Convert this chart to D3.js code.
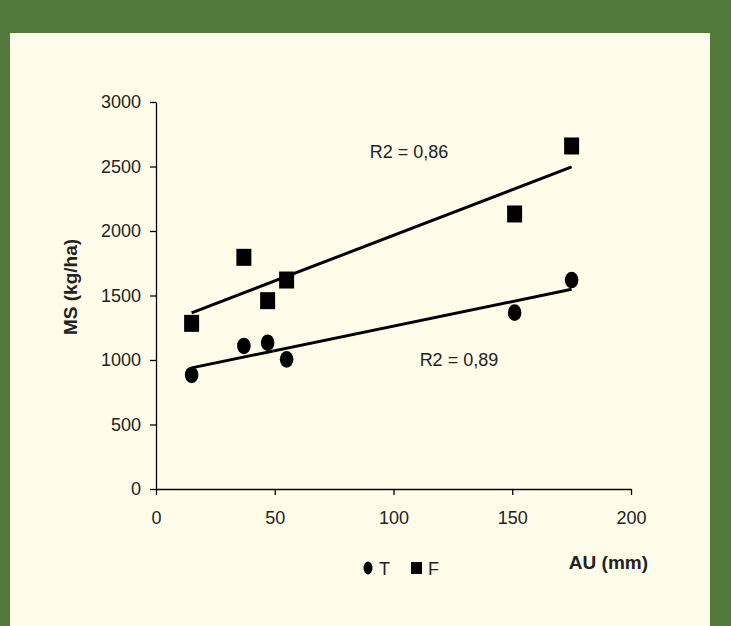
<!DOCTYPE html>
<html>
<head>
<meta charset="utf-8">
<script src="https://cdn.jsdelivr.net/npm/d3@7"></script>
<style>
  html, body { margin: 0; padding: 0; background: #53793a; }
  svg { display: block; font-family: "Liberation Sans", Arial, sans-serif; }
</style>
</head>
<body>
<svg id="chart" width="731" height="626"></svg>
<script>
// AU (mm) for each sampling
var auValues = [15, 37, 47, 55, 151, 175];
// MS (kg/ha), series T (circles) and F (squares)
var seriesT = [884, 1109, 1134, 1005, 1367, 1620];
var seriesF = [1284, 1796, 1460, 1620, 2132, 2659];
var xTicks = [0, 50, 100, 150, 200];
var yTicks = [0, 500, 1000, 1500, 2000, 2500, 3000];
var r2Labels = [
  {text: "R2 = 0,86", x: 90, y: 2566},
  {text: "R2 = 0,89", x: 111, y: 955}
];

var svg = d3.select("#chart");

// cream panel
svg.append("rect")
  .attr("x", 10).attr("y", 33)
  .attr("width", 700).attr("height", 600)
  .attr("fill", "#fffde9");

var xScale = d3.scaleLinear().domain([0, 200]).range([156, 631]);
var yScale = d3.scaleLinear().domain([0, 3000]).range([489, 102]);

var xAxis = d3.axisBottom(xScale).tickValues(xTicks).tickFormat(d3.format("d"))
  .tickSize(6).tickPadding(16).tickSizeOuter(0);
var yAxis = d3.axisLeft(yScale).tickValues(yTicks).tickFormat(d3.format("d"))
  .tickSize(6).tickPadding(9).tickSizeOuter(0);

var gx = svg.append("g")
  .attr("transform", "translate(0," + yScale(0) + ")")
  .call(xAxis);
var gy = svg.append("g")
  .attr("transform", "translate(" + xScale(0) + ",0)")
  .call(yAxis);

[gx, gy].forEach(function(g) {
  g.selectAll("path, line").attr("stroke", "#000").attr("stroke-width", 1.3);
  g.selectAll("text")
    .attr("fill", "#222")
    .style("font-size", "18px")
    .style("font-family", "'Liberation Sans', Arial, sans-serif");
});

// least squares line for a series
function fitLine(xs, ys) {
  var mx = d3.mean(xs), my = d3.mean(ys);
  var sxy = 0, sxx = 0;
  xs.forEach(function(x, i) {
    sxy += (x - mx) * (ys[i] - my);
    sxx += (x - mx) * (x - mx);
  });
  var b1 = sxy / sxx;
  var b0 = my - b1 * mx;
  var x0 = d3.min(xs), x1 = d3.max(xs);
  return [[x0, b0 + b1 * x0], [x1, b0 + b1 * x1]];
}

var line = d3.line()
  .x(function(d) { return xScale(d[0]); })
  .y(function(d) { return yScale(d[1]); });

[seriesF, seriesT].forEach(function(s) {
  svg.append("path")
    .attr("d", line(fitLine(auValues, s)))
    .attr("fill", "none")
    .attr("stroke", "#000")
    .attr("stroke-width", 3);
});

// T points (circles)
svg.append("g").selectAll("ellipse")
  .data(seriesT)
  .join("ellipse")
  .attr("cx", function(d, i) { return xScale(auValues[i]); })
  .attr("cy", function(d) { return yScale(d); })
  .attr("rx", 6.8)
  .attr("ry", 8.3)
  .attr("fill", "#000");

// F points (squares)
svg.append("g").selectAll("rect")
  .data(seriesF)
  .join("rect")
  .attr("x", function(d, i) { return xScale(auValues[i]) - 7.5; })
  .attr("y", function(d) { return yScale(d) - 8.5; })
  .attr("width", 15)
  .attr("height", 17)
  .attr("fill", "#000");

// R2 annotations
svg.selectAll(".r2")
  .data(r2Labels)
  .join("text")
  .attr("class", "r2")
  .attr("x", function(d) { return xScale(d.x); })
  .attr("y", function(d) { return yScale(d.y); })
  .attr("fill", "#222")
  .style("font-size", "18px")
  .text(function(d) { return d.text; });

// axis titles
svg.append("text")
  .attr("transform", "translate(77,287) rotate(-90)")
  .attr("text-anchor", "middle")
  .style("font-size", "19px")
  .style("font-weight", "bold")
  .attr("fill", "#222")
  .text("MS (kg/ha)");

svg.append("text")
  .attr("x", 648).attr("y", 569)
  .attr("text-anchor", "end")
  .style("font-size", "19px")
  .style("font-weight", "bold")
  .attr("fill", "#222")
  .text("AU (mm)");

// legend
var legend = svg.append("g");
legend.append("ellipse")
  .attr("cx", 368).attr("cy", 568)
  .attr("rx", 4.5).attr("ry", 6.5)
  .attr("fill", "#000");
legend.append("text")
  .attr("x", 379).attr("y", 575)
  .style("font-size", "18px")
  .attr("fill", "#222")
  .text("T");
legend.append("rect")
  .attr("x", 411).attr("y", 562)
  .attr("width", 11).attr("height", 12)
  .attr("fill", "#000");
legend.append("text")
  .attr("x", 428).attr("y", 575)
  .style("font-size", "18px")
  .attr("fill", "#222")
  .text("F");
</script>
</body>
</html>
